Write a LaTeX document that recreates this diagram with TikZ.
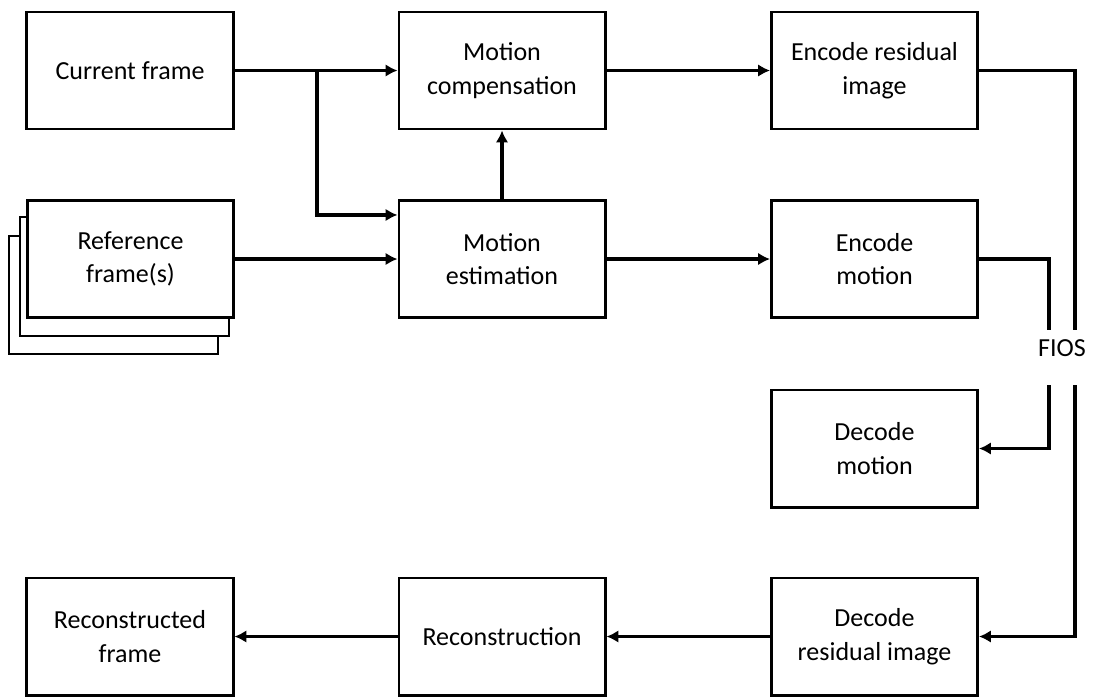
\documentclass[tikz,border=0pt]{standalone}
\usepackage{fontspec}
\setmainfont{Carlito}
\usetikzlibrary{positioning}
\usetikzlibrary{arrows.meta}

\begin{document}
\begin{tikzpicture}[x=0.025cm,y=-0.025cm,
        box/.style={draw,line width=2.1pt,fill=white,minimum width=5.15cm,minimum height=2.925cm,align=center,inner sep=0pt,font=\fontsize{18.5}{24}\selectfont},
        flow/.style={line width=2.6pt,-{Latex[length=8.5pt,width=9pt]}},
        wire/.style={line width=2.6pt}]
            \useasboundingbox (0,0) rectangle (1097,698);

            % top row
            \node[box] (cur) at (130,70.5) {Current frame};
            \node[box] (mc) at (502,70.5) {Motion\\compensation};
            \node[box] (eri) at (874.5,70.5) {Encode residual\\image};

            % reference frames, stacked
            \draw[line width=2.1pt,fill=white] (9,236) rectangle (218,354);
            \draw[line width=2.1pt,fill=white] (20,217) rectangle (229,336);
            \node[box] (ref) at (130.5,259) {Reference\\frame(s)};
            \node[box] (me) at (502,259) {Motion\\estimation};
            \node[box] (em) at (874.5,259) {Encode\\motion};

            \node[box] (dm) at (874.5,448.5) {Decode\\motion};

            % bottom row
            \node[box] (rec) at (130,636.5) {Reconstructed\\frame};
            \node[box] (rcn) at (502,636.5) {Reconstruction};
            \node[box] (dri) at (874.5,636.5) {Decode\\residual image};

            \node[font=\fontsize{18.5}{24}\selectfont] (fios) at (1062,348) {FIOS};

            \coordinate (split) at (317,70.5);
            \coordinate (fa) at (1075,330);
            \coordinate (fb) at (1075,385);
            \coordinate (ga) at (1049,330);
            \coordinate (gb) at (1049,385);

            \draw[flow] (cur) -- (mc);
            \draw[flow] (split) |- ([yshift=1.1cm]me.west);
            \draw[flow] (ref) -- (me);
            \draw[flow] (me) -- (mc);
            \draw[flow] (mc) -- (eri);
            \draw[flow] (me) -- (em);

            \draw[wire] (eri.east) -| (fa);
            \draw[flow] (fb) |- (dri.east);
            \draw[wire] (em.east) -| (ga);
            \draw[flow] (gb) |- (dm.east);

            \draw[flow] (dri) -- (rcn);
            \draw[flow] (rcn) -- (rec);
        \end{tikzpicture}
\end{document}
